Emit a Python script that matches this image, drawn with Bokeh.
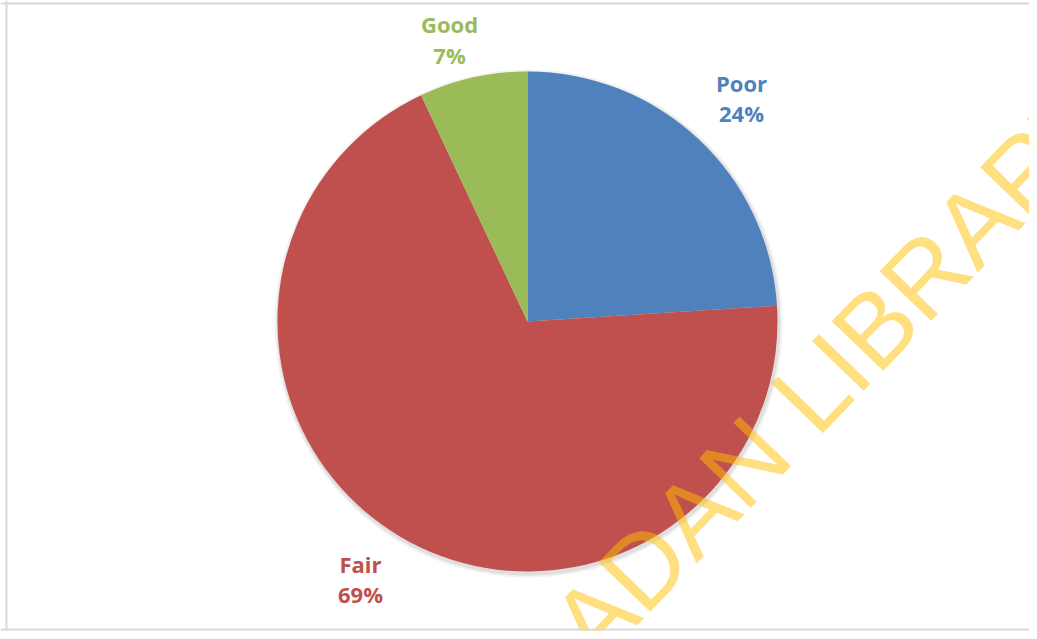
import math
from bokeh.plotting import figure
from bokeh.models import Range1d, Span, ColumnDataSource
from bokeh.core.properties import value
from bokeh.embed import file_html
from bokeh.resources import INLINE

# ---- data ----
categories = ["Poor", "Fair", "Good"]
percent = [24, 69, 7]
colors = ["#4F81BD", "#C0504D", "#9BBB59"]

# label anchor positions (layout coords, top-left origin)
label_x = [741, 360, 449]
label_y_name = [82, 563, 23]
label_y_pct = [112, 593, 54]

W, H = 1029, 631
p = figure(width=W, height=H, output_backend="svg", toolbar_location=None,
           x_range=Range1d(0, W), y_range=Range1d(0, H),
           min_border=0, outline_line_color=None, background_fill_color="white")
p.axis.visible = False
p.grid.visible = False

def sy(y):
    return H - y

cx, cy, r = 527, sy(321), 250

# wedges: start at 90 deg, go clockwise
total = sum(percent)
starts, ends = [], []
a = 90.0
for v in percent:
    span_deg = 360.0 * v / total
    ends.append(math.radians(a))
    starts.append(math.radians(a - span_deg))
    a -= span_deg

# soft shadow
p.circle(x=cx + 1, y=cy - 2, radius=254, radius_units="screen",
         fill_color="#000000", fill_alpha=0.05, line_color=None)
p.circle(x=cx + 1, y=cy - 2, radius=252, radius_units="screen",
         fill_color="#000000", fill_alpha=0.08, line_color=None)

src = ColumnDataSource(dict(start=starts, end=ends, color=colors, cat=categories))
p.wedge(x=cx, y=cy, radius=r, radius_units="screen", start_angle="start", end_angle="end",
        direction="anticlock", fill_color="color", line_color=None, source=src)

lab = ColumnDataSource(dict(
    x=label_x,
    yn=[sy(v) for v in label_y_name],
    yp=[sy(v) for v in label_y_pct],
    name=categories,
    pct=[f"{v}%" for v in percent],
    color=colors,
))
for col, ycol in (("name", "yn"), ("pct", "yp")):
    p.text(x="x", y=ycol, text=col, source=lab, text_color="color",
           text_font=value("Open Sans"), text_font_style="bold",
           text_font_size="22px", text_align="center", text_baseline="middle")

# watermark
p.text(x=[800], y=[sy(404)], text=["IBADAN LIBRARY"], angle=math.radians(46),
       text_color="#FFC000", text_alpha=0.5, text_font=value("Liberation Sans"),
       text_font_size="104px", text_align="center", text_baseline="alphabetic")

# frame
p.add_layout(Span(location=6, dimension="height", line_color="#D9D9D9", line_width=2))
p.add_layout(Span(location=sy(3), dimension="width", line_color="#D9D9D9", line_width=2))
p.add_layout(Span(location=sy(629), dimension="width", line_color="#D9D9D9", line_width=2))

open("out.html", "w").write(file_html(p, INLINE))
